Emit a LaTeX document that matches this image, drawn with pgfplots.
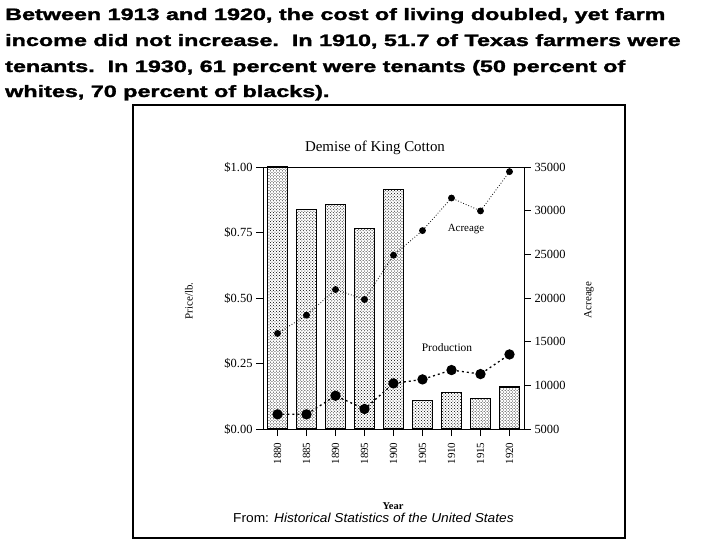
\documentclass[border=0pt]{standalone}
\usepackage{pgfplots}
\pgfplotsset{compat=1.18}
\usepackage{fontspec}
\setmainfont{Liberation Serif}
\newfontfamily\headfont[BoldFeatures={FakeBold=1.5}]{Liberation Sans}
\newfontfamily\srcfont{Liberation Sans}
\usetikzlibrary{patterns}
\begin{document}
\begin{tikzpicture}
\useasboundingbox (0,0) rectangle (720bp,-540bp);
% headline
\tikzset{hl/.style={anchor=base west, inner sep=0pt, font=\headfont\bfseries\fontsize{16.5}{18}\selectfont}}
\node[hl] at (5bp,-20bp) {\scalebox{1.42}[1]{Between 1913 and 1920, the cost of living doubled, yet farm}};
\node[hl] at (5bp,-46bp) {\scalebox{1.42}[1]{income did not increase.\ \ In 1910, 51.7 of Texas farmers were}};
\node[hl] at (5bp,-72bp) {\scalebox{1.42}[1]{tenants.\ \ In 1930, 61 percent were tenants (50 percent of}};
\node[hl] at (5bp,-97bp) {\scalebox{1.42}[1]{whites, 70 percent of blacks).}};
% frame
\draw[line width=1.5pt] (133bp,-105bp) rectangle (625bp,-538bp);
% title and labels
\node[anchor=base, inner sep=0pt, font=\fontsize{15}{15}\selectfont] at (375bp,-151bp) {Demise of King Cotton};
\node[rotate=90, inner sep=0pt, font=\fontsize{11}{11}\selectfont] at (189bp,-301bp) {Price/lb.};
\node[rotate=90, inner sep=0pt, font=\fontsize{11}{11}\selectfont] at (589bp,-300bp) {Acreage};
\node[inner sep=0pt, font=\fontsize{11}{11}\selectfont] at (466bp,-229bp) {Acreage};
\node[inner sep=0pt, font=\fontsize{11.5}{11.5}\selectfont] at (447bp,-348bp) {Production};
\node[inner sep=0pt, font=\bfseries\fontsize{10.5}{10.5}\selectfont] at (393bp,-506bp) {Year};
\node[anchor=base west, inner sep=0pt, font=\srcfont\fontsize{13}{13}\selectfont] at (233bp,-522bp) {\scalebox{1.06}[1]{From: \textit{Historical Statistics of the United States}}};

\begin{axis}[
  at={(263bp,-429bp)}, anchor=south west,
  scale only axis, width=261bp, height=262bp,
  xmin=-0.5, xmax=8.5, ymin=0, ymax=1,
  ybar, bar width=20bp, bar shift=0pt,
  axis line style={line width=0.8pt},
  xtick={0,1,2,3,4,5,6,7,8},
  xticklabels={1880,1885,1890,1895,1900,1905,1910,1915,1920},
  x tick label style={rotate=90, anchor=east, font=\fontsize{11}{11}\selectfont},
  ytick={0,0.25,0.5,0.75,1},
  yticklabels={\$0.00,\$0.25,\$0.50,\$0.75,\$1.00},
  y tick label style={font=\fontsize{12.5}{12.5}\selectfont},
  xtick pos=lower, ytick pos=left,
  tick align=outside, major tick length=7bp,
  tick style={black, line width=0.8pt},
  xticklabel shift=3bp, yticklabel shift=0bp,
  clip=false,
]
\addplot[draw=black, line width=1.2pt, pattern=crosshatch dots, pattern color=black] coordinates {
(0,1.00) (1,0.839) (2,0.856) (3,0.765) (4,0.914) (5,0.109) (6,0.140) (7,0.117) (8,0.160)};
\end{axis}

\begin{axis}[
  at={(263bp,-429bp)}, anchor=south west,
  scale only axis, width=261bp, height=262bp,
  xmin=-0.5, xmax=8.5, ymin=5000, ymax=35000,
  axis x line=none, axis y line*=right,
  axis line style={line width=0.8pt},
  ytick={5000,10000,15000,20000,25000,30000,35000},
  scaled y ticks=false,
  /pgf/number format/1000 sep={},
  /pgf/number format/assume math mode=true,
  y tick label style={font=\fontsize{12.5}{12.5}\selectfont},
  tick align=outside, major tick length=7bp,
  tick style={black, line width=0.8pt},
  clip=false,
]
\addplot[black, dotted, line width=0.8pt, mark=*, mark size=3pt, mark options={solid}] coordinates {
(0,15940) (1,18040) (2,20970) (3,19830) (4,24900) (5,27720) (6,31450) (7,29970) (8,34470)};
\addplot[black, dash pattern=on 2pt off 3pt, line width=1.3pt, mark=*, mark size=4.5pt, mark options={solid}] coordinates {
(0,6680) (1,6680) (2,8810) (3,7290) (4,10220) (5,10680) (6,11750) (7,11290) (8,13540)};
\end{axis}
\end{tikzpicture}
\end{document}
